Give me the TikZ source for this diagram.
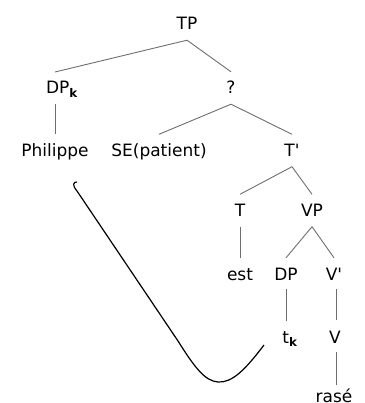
\documentclass[tikz,border=0pt]{standalone}
\usepackage{fontspec}
\setmainfont{DejaVu Sans}
\newfontfamily\plainfont{DejaVu Sans}
\definecolor{branch}{RGB}{110,110,110}
\begin{document}
\begin{tikzpicture}[x=1pt,y=-1pt,
  lab/.style={anchor=base,font=\plainfont\fontsize{17}{20}\selectfont,text height=12.5pt,text depth=0.5pt,inner ysep=9.5pt,inner xsep=0pt},
  br/.style={draw=branch,line width=0.9pt},
  mv/.style={draw=black,line width=1.2pt}]
\useasboundingbox (0,0) rectangle (364,403);
\node[lab] (tp) at (187,30) {TP};
\node[lab] (dpk) at (62,94) {DP\textsubscript{\bfseries k}};
\node[lab] (q) at (231,94) {?};
\node[lab] (phil) at (55,156.5) {Philippe};
\node[lab] (se) at (159,156.5) {SE(patient)};
\node[lab] (tbar) at (292,156.5) {T'};
\node[lab] (t) at (240,216.5) {T};
\node[lab] (vp) at (312,216.5) {VP};
\node[lab] (est) at (240,280) {est};
\node[lab] (dp) at (286,280) {DP};
\node[lab] (vbar) at (334,280) {V'};
\node[lab] (tk) at (290,343) {t\textsubscript{\bfseries k}};
\node[lab] (v) at (335,343) {V};
\node[lab] (rase) at (334,402.5) {rasé};
\coordinate (dpktop) at (55,72);
\coordinate (dpkbot) at (55,104);
\coordinate (tkbot) at (286,289);
\coordinate (tktop) at (286,321);
\coordinate (vbtop) at (336,289);
\coordinate (vbbot) at (336,320);
\coordinate (vtop) at (336,352);
\coordinate (vbot) at (336,385);
\draw[br] (tp.south) -- (dpktop);
\draw[br] (tp.south) -- (q.north);
\draw[br] (dpkbot) -- (phil.north);
\draw[br] (q.south) -- (se.north);
\draw[br] (q.south) -- (tbar.north);
\draw[br] (tbar.south) -- (t.north);
\draw[br] (tbar.south) -- (vp.north);
\draw[br] (t.south) -- (est.north);
\draw[br] (vp.south) -- (dp.north);
\draw[br] (vp.south) -- (vbar.north);
\draw[br] (tkbot) -- (tktop);
\draw[br] (vbtop) -- (vbbot);
\draw[br] (vtop) -- (vbot);
\coordinate (cend) at (264,345);
\coordinate (chook) at (77,182);
\draw[mv] (cend) .. controls (245,370) and (232,383) .. (218,382)
  .. controls (205,381) and (195,368) .. (178,341)
  -- (77,191) .. controls (72,185) and (73,182) .. (chook);
\end{tikzpicture}
\end{document}
